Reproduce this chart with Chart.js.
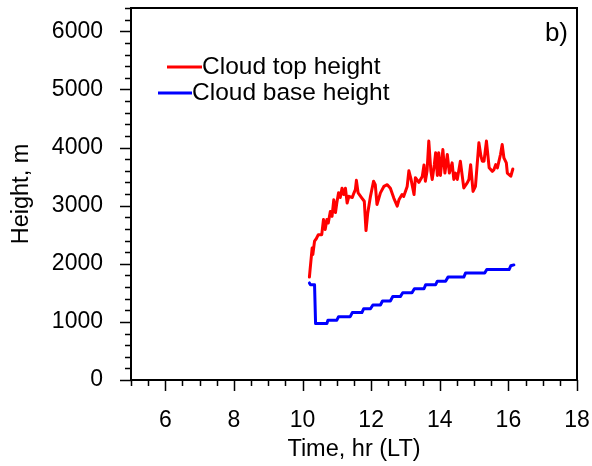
<!DOCTYPE html>
<html>
<head>
<meta charset="utf-8">
<script src="https://cdn.jsdelivr.net/npm/chart.js@4.4.1/dist/chart.umd.min.js"></script>
<style>
  html, body { margin: 0; padding: 0; background: #ffffff; }
  #wrap { width: 592px; height: 466px; }
</style>
</head>
<body>
<div id="wrap"><canvas id="c" width="592" height="466"></canvas></div>
<script>
// Cloud top height (m) against local time (hr)
const topTimes = [10.20, 10.22, 10.28, 10.30, 10.35, 10.40, 10.46, 10.56, 10.61, 10.66, 10.71, 10.75,
  10.81, 10.86, 10.91, 10.96, 11.00, 11.05, 11.10, 11.15, 11.20, 11.25, 11.30, 11.35, 11.45, 11.50,
  11.54, 11.57, 11.62, 11.73, 11.80, 11.85, 11.90, 11.98, 12.07, 12.12, 12.17, 12.27, 12.37, 12.47,
  12.56, 12.66, 12.76, 12.81, 12.90, 12.95, 13.05, 13.10, 13.16, 13.25, 13.29, 13.39, 13.49, 13.54,
  13.58, 13.63, 13.68, 13.74, 13.78, 13.84, 13.88, 13.93, 13.97, 14.02, 14.09, 14.15, 14.22, 14.28,
  14.36, 14.41, 14.46, 14.51, 14.60, 14.70, 14.80, 14.85, 14.90, 14.97, 15.04, 15.14, 15.20, 15.24,
  15.29, 15.36, 15.44, 15.53, 15.58, 15.63, 15.68, 15.77, 15.82, 15.87, 15.94, 15.97, 16.07, 16.13];
const topHeights = [1770, 1900, 2270, 2160, 2390, 2430, 2500, 2500, 2760, 2590, 2760, 2700,
  2900, 2815, 3100, 2880, 3050, 3220, 3140, 3300, 3190, 3300, 3045, 3160, 3140, 3220,
  3275, 3435, 3220, 3130, 3075, 2570, 2870, 3160, 3420, 3360, 3020, 3220, 3330, 3360,
  3300, 3130, 2990, 3100, 3190, 3160, 3330, 3600, 3460, 3190, 3480, 3400, 3500, 3700,
  3420, 3600, 4110, 3600, 3450, 3700, 3910, 3520, 3910, 3520, 3965, 3560, 3880, 3560,
  3735, 3450, 3560, 3450, 3765, 3305, 3390, 3450, 3705, 3245, 3330, 4080, 3850, 3765,
  3765, 4110, 3650, 3590, 3620, 3705, 3650, 3880, 4050, 3820, 3735, 3560, 3505, 3630];

// Cloud base height (m) against local time (hr)
const baseTimes = [10.20, 10.23, 10.35, 10.38, 10.71, 10.74, 11.00, 11.05, 11.39, 11.45, 11.73, 11.78,
  11.98, 12.05, 12.27, 12.33, 12.56, 12.63, 12.85, 12.92, 13.19, 13.26, 13.54, 13.59, 13.88, 13.93,
  14.17, 14.24, 14.70, 14.75, 15.31, 15.37, 16.02, 16.07, 16.16];
const baseHeights = [1670, 1640, 1640, 970, 970, 1030, 1030, 1090, 1090, 1160, 1160, 1225,
  1225, 1290, 1290, 1360, 1360, 1435, 1435, 1500, 1500, 1570, 1570, 1640, 1640, 1700,
  1700, 1770, 1770, 1840, 1840, 1900, 1900, 1965, 1980];

const seriesNames = ['Cloud top height', 'Cloud base height'];
const xTickValues = [6, 8, 10, 12, 14, 16, 18];
const yTickValues = [0, 1000, 2000, 3000, 4000, 5000, 6000];
const xMinorStep = 0.5;
const yMinorStep = 200;
const panelLabel = 'b)';
const xTitle = 'Time, hr (LT)';
const yTitle = 'Height, m';

const FONT = '"Liberation Sans", Arial, Helvetica, sans-serif';

function toPoints(xs, ys) { return xs.map((x, i) => ({ x: x, y: ys[i] })); }

// keep the plot frame fixed: no extra room reserved for edge labels
function fixBox(s, key, size) {
  s[key] = size;
  s.paddingLeft = 0; s.paddingRight = 0; s.paddingTop = 0; s.paddingBottom = 0;
}

// Frame, outward tick marks, legend and panel tag
const decorations = {
  id: 'decorations',
  afterDatasetsDraw(chart) {
    const { ctx, chartArea: a, scales: { x, y } } = chart;
    ctx.save();
    ctx.strokeStyle = '#000';
    ctx.lineWidth = 2;
    ctx.strokeRect(a.left, a.top, a.right - a.left, a.bottom - a.top);

    ctx.lineWidth = 1.5;
    ctx.beginPath();
    for (let v = x.min; v <= x.max + 1e-9; v += xMinorStep) {
      const px = Math.round(x.getPixelForValue(v)) + 0.5;
      const major = xTickValues.includes(Math.round(v * 100) / 100);
      ctx.moveTo(px, a.bottom);
      ctx.lineTo(px, a.bottom + (major ? 11 : 6));
    }
    for (let v = y.min; v <= y.max + 1e-9; v += yMinorStep) {
      const py = Math.round(y.getPixelForValue(v)) + 0.5;
      const major = yTickValues.includes(v);
      ctx.moveTo(a.left, py);
      ctx.lineTo(a.left - (major ? 11 : 6), py);
    }
    ctx.stroke();

    // legend
    const ds = chart.data.datasets;
    const entries = [
      { x0: 167, x1: 202, yy: 67 },
      { x0: 158, x1: 192, yy: 93 }
    ];
    ctx.font = '24.5px ' + FONT;
    ctx.textBaseline = 'middle';
    ctx.textAlign = 'left';
    entries.forEach((e, i) => {
      ctx.strokeStyle = ds[i].borderColor;
      ctx.lineWidth = 3;
      ctx.beginPath();
      ctx.moveTo(e.x0, e.yy);
      ctx.lineTo(e.x1, e.yy);
      ctx.stroke();
      ctx.fillStyle = '#000';
      ctx.fillText(ds[i].label, e.x1, e.yy);
    });

    ctx.font = '26px ' + FONT;
    ctx.textAlign = 'right';
    ctx.textBaseline = 'alphabetic';
    ctx.fillText(panelLabel, a.right - 9, 41);
    ctx.restore();
  }
};

new Chart(document.getElementById('c'), {
  type: 'line',
  data: {
    datasets: [
      {
        label: seriesNames[0],
        data: toPoints(topTimes, topHeights),
        borderColor: '#ff0000',
        borderWidth: 3,
        borderJoinStyle: 'round',
        borderCapStyle: 'round',
        pointRadius: 0,
        tension: 0,
        fill: false
      },
      {
        label: seriesNames[1],
        data: toPoints(baseTimes, baseHeights),
        borderColor: '#0000ff',
        borderWidth: 3,
        borderJoinStyle: 'round',
        borderCapStyle: 'round',
        pointRadius: 0,
        tension: 0,
        fill: false
      }
    ]
  },
  options: {
    responsive: false,
    animation: false,
    devicePixelRatio: 1,
    layout: { padding: { top: 8, right: 15, left: 0, bottom: 0 } },
    plugins: { legend: { display: false }, tooltip: { enabled: false } },
    scales: {
      x: {
        type: 'linear',
        min: 5,
        max: 18,
        grid: { display: false, drawTicks: false },
        border: { display: false },
        afterBuildTicks: s => { s.ticks = xTickValues.map(v => ({ value: v })); },
        afterFit: s => fixBox(s, 'height', 86),
        ticks: { color: '#000', font: { family: FONT, size: 23 }, padding: 27, maxRotation: 0,
                 callback: v => String(v) },
        title: { display: true, text: xTitle, color: '#000', font: { family: FONT, size: 23.5 }, padding: { top: 0, bottom: 2 } }
      },
      y: {
        type: 'linear',
        min: 0,
        max: 6400,
        grid: { display: false, drawTicks: false },
        border: { display: false },
        afterBuildTicks: s => { s.ticks = yTickValues.map(v => ({ value: v })); },
        afterFit: s => fixBox(s, 'width', 131),
        ticks: { color: '#000', font: { family: FONT, size: 23 }, padding: 28,
                 callback: v => String(v) },
        title: { display: true, text: yTitle, color: '#000', font: { family: FONT, size: 23.5 }, padding: { top: 7, bottom: 0 } }
      }
    }
  },
  plugins: [decorations]
});
</script>
</body>
</html>
